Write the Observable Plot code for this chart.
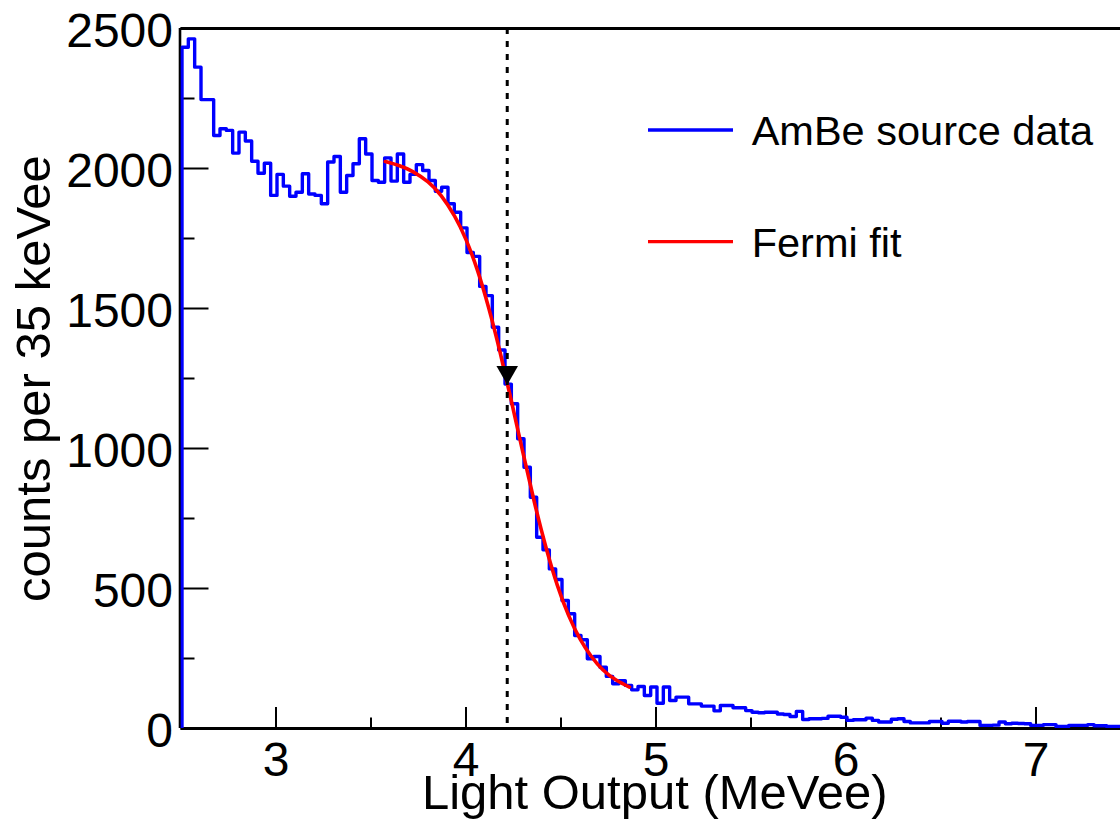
<!DOCTYPE html>
<html>
<head>
<meta charset="utf-8">
<script src="https://cdn.jsdelivr.net/npm/d3@7"></script>
<script src="https://cdn.jsdelivr.net/npm/@observablehq/plot@0.6"></script>
<style>
  html, body { margin: 0; padding: 0; background: #fff; overflow: hidden; }
  #wrap { position: relative; width: 1120px; height: 830px; font-family: "Liberation Sans", Arial, Helvetica, sans-serif; }
  #legend { position: absolute; left: 0; top: 0; pointer-events: none; }
</style>
</head>
<body>
<div id="wrap"></div>
<script>
// ---- data ----
const binStart = 2.5;          // MeVee, lower edge of first bin
const binWidth = 1 / 30;       // MeVee per bin
const counts = [
  2433, 2463, 2362, 2246, 2246, 2118, 2142, 2136, 2055, 2130,
  2098, 2026, 1983, 2019, 1904, 1979, 1937, 1901, 1915, 1981,
  1909, 1904, 1874, 2023, 2043, 1915, 1975, 2017, 2106, 2052,
  1957, 1951, 2038, 1955, 2052, 1951, 1979, 2014, 1993, 1957,
  1919, 1933, 1874, 1844, 1788, 1700, 1686, 1579, 1546, 1433,
  1352, 1230, 1160, 1035, 933, 826, 683, 638, 570, 532,
  457, 410, 332, 317, 249, 257, 219, 186, 160, 171,
  154, 138, 150, 118, 148, 90, 148, 100, 112, 112,
  88, 88, 80, 80, 63, 82, 82, 74, 74, 64,
  58, 56, 58, 58, 52, 50, 43, 61, 32, 35,
  35, 36, 44, 44, 40, 29, 31, 31, 37, 29,
  23, 23, 33, 35, 25, 20, 20, 20, 25, 25,
  19, 26, 26, 23, 25, 25, 11, 11, 12, 23,
  17, 19, 18, 17, 11, 11, 14, 14, 7, 7,
  11, 11, 11, 14, 10, 10, 7, 7, 7
];
// Fermi fit curve
const fitX = [3.575, 3.65, 3.72, 3.80, 3.87, 3.94, 4.00, 4.06, 4.12, 4.18, 4.24, 4.30, 4.36, 4.42, 4.48, 4.54, 4.60, 4.66, 4.72, 4.79, 4.86];
const fitY = [2025, 2010, 1989, 1952, 1902, 1830, 1746, 1637, 1501, 1342, 1166, 984, 808, 649, 513, 404, 320, 257, 210, 173, 148];
// marked edge position (dashed line + triangle)
const edgeX = [4.217];
const edgeY = [1272];
// axes
const xDomain = [2.5, 7.4447];
const yDomain = [0, 2500];
const xMajor = [3, 4, 5, 6, 7];
const xMinor = [3.5, 4.5, 5.5, 6.5];
const yMajor = [0, 500, 1000, 1500, 2000, 2500];
const yMinor = [250, 750, 1250, 1750, 2250];
const xTitle = "Light Output (MeVee)";
const yTitle = "counts per 35 keVee";
const legendItems = [
  {label: "AmBe source data", color: "#0000ff"},
  {label: "Fermi fit", color: "#ff0000"}
];

// ---- layout ----
const W = 1120, H = 830;
const mL = 180.5, mR = 0, mT = 28, mB = 102;
const pxPerX = (W - mL - mR) / (xDomain[1] - xDomain[0]);
const pxPerY = (H - mT - mB) / (yDomain[1] - yDomain[0]);
const yTickMajorLen = 28 / pxPerX, yTickMinorLen = 14 / pxPerX;
const xTickMajorLen = 21 / pxPerY, xTickMinorLen = 10.5 / pxPerY;

const hist = [{x: binStart, y: 0}]
  .concat(counts.map((c, i) => ({x: binStart + i * binWidth, y: c})))
  .concat([{x: binStart + counts.length * binWidth, y: counts[counts.length - 1]}]);
const fit = fitX.map((x, i) => ({x, y: fitY[i]}));
const marker = edgeX.map((x, i) => ({x, y: edgeY[i]}));

const downTriangle = {
  draw(context, size) {
    const y = Math.sqrt(size / (3 * Math.sqrt(3)));
    context.moveTo(0, 2 * y);
    context.lineTo(Math.sqrt(3) * y, -y);
    context.lineTo(-Math.sqrt(3) * y, -y);
    context.closePath();
  }
};

const chart = Plot.plot({
  width: W, height: H,
  marginLeft: mL, marginRight: mR, marginTop: mT, marginBottom: mB,
  style: {fontFamily: "'Liberation Sans', Arial, Helvetica, sans-serif", background: "white", color: "black", overflow: "visible"},
  x: {domain: xDomain},
  y: {domain: yDomain},
  marks: [
    Plot.axisX({ticks: xMajor, tickSize: 0, tickPadding: 13, fontSize: 48, tickFormat: d => String(d), label: null}),
    Plot.axisY({ticks: yMajor, tickSize: 0, tickPadding: 8, fontSize: 48, dy: 3, tickFormat: d => String(d), label: null}),
    // inward ticks
    Plot.ruleX(xMajor, {x: d => d, y1: 0, y2: xTickMajorLen, stroke: "black", strokeWidth: 2}),
    Plot.ruleX(xMinor, {x: d => d, y1: 0, y2: xTickMinorLen, stroke: "black", strokeWidth: 2}),
    Plot.ruleY(yMajor, {y: d => d, x1: xDomain[0], x2: xDomain[0] + yTickMajorLen, stroke: "black", strokeWidth: 2}),
    Plot.ruleY(yMinor, {y: d => d, x1: xDomain[0], x2: xDomain[0] + yTickMinorLen, stroke: "black", strokeWidth: 2}),
    // frame
    Plot.ruleY([yDomain[0]], {stroke: "black", strokeWidth: 3}),
    Plot.ruleY([yDomain[1]], {stroke: "black", strokeWidth: 3}),
    Plot.ruleX([xDomain[0]], {stroke: "black", strokeWidth: 2.6, dx: -1}),
    // histogram
    Plot.line(hist, {x: "x", y: "y", curve: "step-after", stroke: "#0000ff", strokeWidth: 3.4, dx: 1, clip: true}),
    // fit
    Plot.line(fit, {x: "x", y: "y", curve: "natural", stroke: "#ff0000", strokeWidth: 3.6}),
    // dashed marker line
    Plot.ruleX(edgeX, {x: d => d, stroke: "black", strokeWidth: 3, strokeDasharray: "6,7"}),
    Plot.dot(marker, {x: "x", y: "y", symbol: downTriangle, r: 8, fill: "black", stroke: "none"}),
    // axis titles
    Plot.text([xTitle], {frameAnchor: "bottom", textAnchor: "middle", dx: 4, dy: 65, lineAnchor: "middle", fontSize: 49, fill: "black"}),
    Plot.text([yTitle], {frameAnchor: "left", textAnchor: "middle", dx: -146.2, dy: 0, rotate: -90, lineAnchor: "middle", fontSize: 49, fill: "black"})
  ]
});

const wrap = document.getElementById("wrap");
wrap.appendChild(chart);

// legend overlay
const ns = "http://www.w3.org/2000/svg";
const leg = document.createElementNS(ns, "svg");
leg.setAttribute("id", "legend");
leg.setAttribute("width", W);
leg.setAttribute("height", H);
const legRows = [130, 241.7];
legendItems.forEach((item, i) => {
  const yy = legRows[i];
  const ln = document.createElementNS(ns, "line");
  ln.setAttribute("x1", 648); ln.setAttribute("x2", 733);
  ln.setAttribute("y1", yy); ln.setAttribute("y2", yy);
  ln.setAttribute("stroke", item.color); ln.setAttribute("stroke-width", 3.3);
  leg.appendChild(ln);
  const tx = document.createElementNS(ns, "text");
  tx.setAttribute("x", 751.7); tx.setAttribute("y", yy + 14.8);
  tx.setAttribute("font-size", 41.5);
  tx.setAttribute("font-family", "'Liberation Sans', Arial, Helvetica, sans-serif");
  tx.setAttribute("fill", "black");
  tx.textContent = item.label;
  leg.appendChild(tx);
});
wrap.appendChild(leg);
</script>
</body>
</html>
